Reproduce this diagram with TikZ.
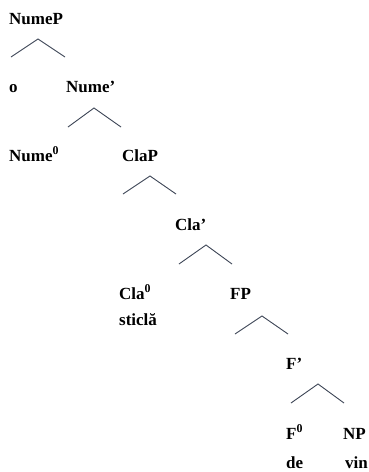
\documentclass[tikz,border=0pt]{standalone}
\usepackage{fontspec}
\setmainfont{Liberation Serif}
\begin{document}
\begin{tikzpicture}[x=1pt,y=-1pt,
  lbl/.style={anchor=base west,inner sep=0pt,font=\fontsize{17}{20}\selectfont\bfseries},
  roof/.style={draw={rgb,255:red,60;green,68;blue,85},line width=0.9pt}]
\useasboundingbox (0,0) rectangle (369,472);
% labels
\node[lbl] (numep) at (9,24) {NumeP};
\node[lbl] (o) at (9,92) {o};
\node[lbl] (numebar) at (66,92) {Nume’};
\node[lbl] (nume0) at (9,161) {Nume\textsuperscript{0}};
\node[lbl] (clap) at (122,161) {ClaP};
\node[lbl] (clabar) at (175,230) {Cla’};
\node[lbl] (cla0) at (119,299) {Cla\textsuperscript{0}};
\node[lbl] (fp) at (230,299) {FP};
\node[lbl] (sticla) at (119,325) {sticlă};
\node[lbl] (fbar) at (286,369) {F’};
\node[lbl] (f0) at (286,439) {F\textsuperscript{0}};
\node[lbl] (np) at (343,439) {NP};
\node[lbl] (de) at (286,468) {de};
\node[lbl] (vin) at (345,468) {vin};
% roofs
\coordinate (a1) at (38,39);  \coordinate (l1) at (11,57);  \coordinate (r1) at (65,57);
\coordinate (a2) at (94,108); \coordinate (l2) at (68,127); \coordinate (r2) at (121,127);
\coordinate (a3) at (150,176);\coordinate (l3) at (123,194);\coordinate (r3) at (176,194);
\coordinate (a4) at (206,245);\coordinate (l4) at (179,264);\coordinate (r4) at (232,264);
\coordinate (a5) at (262,316);\coordinate (l5) at (235,334);\coordinate (r5) at (288,334);
\coordinate (a6) at (318,384);\coordinate (l6) at (291,403);\coordinate (r6) at (344,403);
\draw[roof] (l1) -- (a1) -- (r1);
\draw[roof] (l2) -- (a2) -- (r2);
\draw[roof] (l3) -- (a3) -- (r3);
\draw[roof] (l4) -- (a4) -- (r4);
\draw[roof] (l5) -- (a5) -- (r5);
\draw[roof] (l6) -- (a6) -- (r6);
\end{tikzpicture}
\end{document}
